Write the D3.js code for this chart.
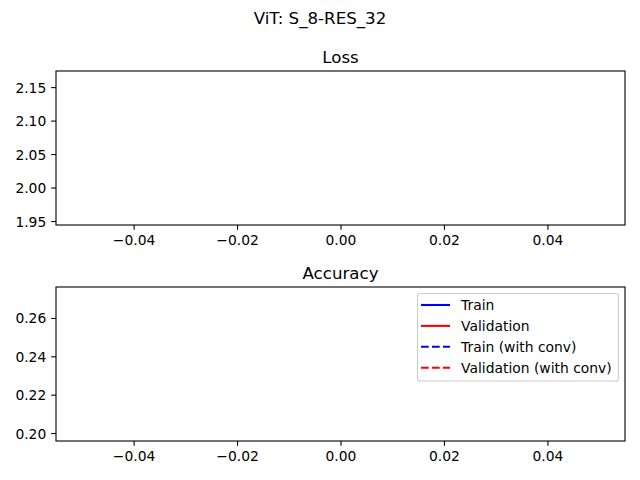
<!DOCTYPE html>
<html><head><meta charset="utf-8">
<script src="https://cdn.jsdelivr.net/npm/d3@7"></script>
<style>body{margin:0;background:#fff}svg{display:block}text{font-family:"DejaVu Sans",sans-serif;fill:#000}</style>
</head><body>
<script>
// Data (single epoch; single points are not visible as lines)
const epochs = [0];
const trainLoss = [1.9545];
const valLoss = [2.1636];
const trainAcc = [0.1995];
const valAcc = [0.2725];
const trainLossConv = [];
const valLossConv = [];
const trainAccConv = [];
const valAccConv = [];
const xTicks = [-0.04, -0.02, 0.0, 0.02, 0.04];
const lossTicks = [1.95, 2.00, 2.05, 2.10, 2.15];
const accTicks = [0.20, 0.22, 0.24, 0.26];
const legendItems = ["Train", "Validation", "Train (with conv)", "Validation (with conv)"];
const legendColors = ["blue", "red", "blue", "red"];
const legendDashed = [false, false, true, true];

const W = 640, H = 480;
const svg = d3.select("body").append("svg").attr("width", W).attr("height", H);
svg.append("text").attr("x", 320).attr("y", 24).attr("text-anchor", "middle")
  .style("font-size", "16.67px").text("ViT: S_8-RES_32");

function pad(vals) {
  const lo = d3.min(vals), hi = d3.max(vals), d = hi - lo;
  return [lo - 0.05 * d, hi + 0.05 * d];
}
const fmtX = v => (v < 0 ? "\u2212" : "") + Math.abs(v).toFixed(2);

function panel(top, bottom, title, series, yTicks, yFmt, legend) {
  const left = 56, right = 625;
  const x = d3.scaleLinear().domain([-0.055, 0.055]).range([left, right]);
  const allY = series.flatMap(s => s.vals);
  const y = d3.scaleLinear().domain(pad(allY)).range([bottom, top]);
  const g = svg.append("g");
  const line = d3.line().x((d, i) => x(epochs[i])).y(d => y(d));
  series.forEach(s => {
    if (s.vals.length > 1) g.append("path").attr("d", line(s.vals)).attr("fill", "none")
      .attr("stroke", s.color).attr("stroke-width", 2.08)
      .attr("stroke-dasharray", s.dash ? "7.7,3.3" : null);
  });
  const xa = g.append("g").attr("transform", `translate(0,${bottom})`)
    .call(d3.axisBottom(x).tickValues(xTicks).tickFormat(fmtX).tickSizeOuter(0).tickSize(4.86).tickPadding(4.86));
  const ya = g.append("g").attr("transform", `translate(${left},0)`)
    .call(d3.axisLeft(y).tickValues(yTicks).tickFormat(yFmt).tickSizeOuter(0).tickSize(4.86).tickPadding(4.86));
  [xa, ya].forEach(a => {
    a.select(".domain").remove();
    a.selectAll("line").attr("stroke", "#000").attr("stroke-width", 1.1);
    a.selectAll("text").style("font-size", "13.89px").attr("fill", "#000").style("font-family", "DejaVu Sans");
  });
  xa.selectAll("text").attr("dy", "0.76em");
  ya.selectAll("text").attr("dy", "0.36em");
  g.append("rect").attr("x", left).attr("y", top).attr("width", right - left).attr("height", bottom - top)
    .attr("fill", "none").attr("stroke", "#000").attr("stroke-width", 1.1);
  g.append("text").attr("x", (left + right) / 2).attr("y", top - 8.3).attr("text-anchor", "middle")
    .style("font-size", "16.67px").text(title);
  if (legend) {
    const lg = g.append("g");
    lg.append("rect").attr("x", 417.5).attr("y", 293.5).attr("width", 201).attr("height", 87.5)
      .attr("rx", 2.8).attr("fill", "#fff").attr("fill-opacity", 0.8).attr("stroke", "#cccccc").attr("stroke-width", 1.1);
    legendItems.forEach((t, i) => {
      const yy = 305 + i * 20.9;
      lg.append("line").attr("x1", 421).attr("x2", 450).attr("y1", yy).attr("y2", yy)
        .attr("stroke", legendColors[i]).attr("stroke-width", 2.08)
        .attr("stroke-dasharray", legendDashed[i] ? "7.7,3.3" : null);
      lg.append("text").attr("x", 461).attr("y", yy).attr("dy", "0.36em").style("font-size", "13.89px").text(t);
    });
  }
}

panel(71, 225, "Loss", [
  {vals: trainLoss, color: "blue"}, {vals: valLoss, color: "red"},
  {vals: trainLossConv, color: "blue", dash: true}, {vals: valLossConv, color: "red", dash: true}
].filter(s => s.vals.length), lossTicks, d => d.toFixed(2), false);

panel(287, 441, "Accuracy", [
  {vals: trainAcc, color: "blue"}, {vals: valAcc, color: "red"},
  {vals: trainAccConv, color: "blue", dash: true}, {vals: valAccConv, color: "red", dash: true}
].filter(s => s.vals.length), accTicks, d => d.toFixed(2), true);
</script>
</body></html>
